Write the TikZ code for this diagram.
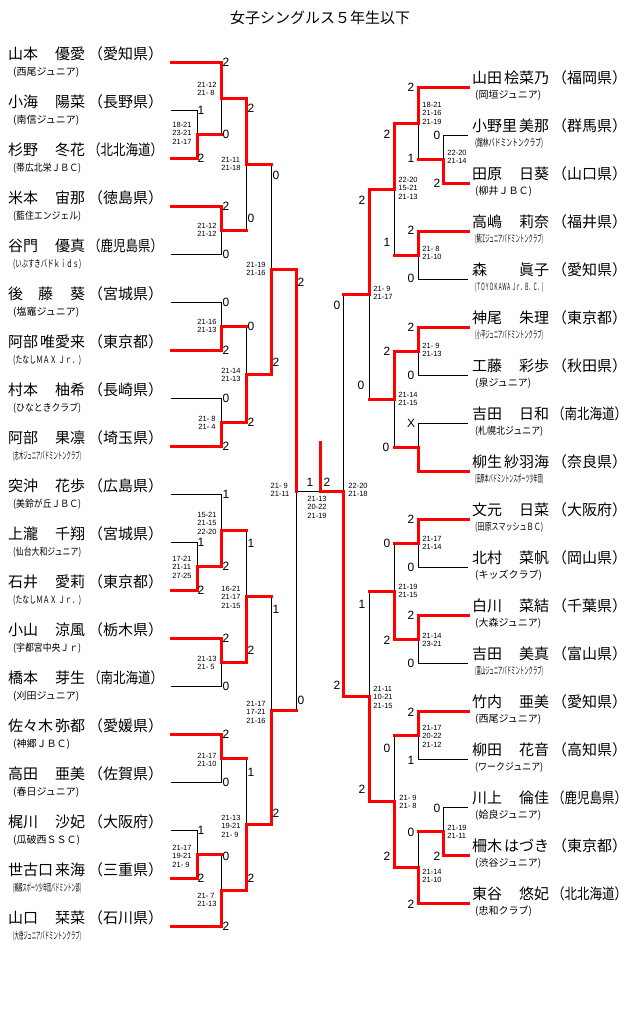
\documentclass[tikz,border=0pt]{standalone}
\usepackage{fontspec}
\usepackage{graphicx}
\usepackage{tikz}
\setmainfont{Noto Sans CJK JP}
\newfontfamily\digitfont{Liberation Sans}
\newsavebox\fitsave
\newcommand\fitto[2]{\sbox\fitsave{#2}\ifdim\wd\fitsave>#1\relax\resizebox{#1}{\height}{\usebox\fitsave}\else\usebox\fitsave\fi}
\newcommand\playerentry[3]{\makebox[155pt][s]{\makebox[77pt][s]{#1\hfill#2}\hfill\fitto{75pt}{（#3）}}}

\begin{document}
\begin{tikzpicture}[x=1pt, y=-1pt,
  win/.style={red, line width=3pt, line cap=rect},
  lose/.style={black, line width=0.8pt},
  entrytxt/.style={anchor=west, inner sep=0pt, font=\fontsize{15}{18}\selectfont},
  clubtxt/.style={anchor=west, inner sep=0pt, font=\fontsize{10}{12}\selectfont},
  gamescore/.style={inner sep=0pt, align=left, font=\digitfont\fontsize{7.5}{8.5}\selectfont},
  roundscore/.style={inner sep=0pt, font=\digitfont\fontsize{12}{14}\selectfont}]
\useasboundingbox (0,0) rectangle (640,1009);
\node[font=\fontsize{15}{18}\selectfont] (title) at (320,18) {女子シングルス５年生以下};

\foreach \famn/\givn/\prf/\clb [count=\i from 0] in {
    山本/優愛/愛知県/西尾ジュニア, 小海/陽菜/長野県/南信ジュニア,
    杉野/冬花/北北海道/帯広北栄ＪＢＣ, 米本/宙那/徳島県/藍住エンジェル,
    谷門/優真/鹿児島県/いぶすきバドｋｉｄｓ, 後　藤/葵/宮城県/塩竈ジュニア,
    阿部/唯愛来/東京都/たなしＭＡＸ Ｊｒ．, 村本/柚希/長崎県/ひなときクラブ,
    阿部/果凛/埼玉県/志木ジュニアバドミントンクラブ, 突沖/花歩/広島県/美鈴が丘ＪＢＣ,
    上瀧/千翔/宮城県/仙台大和ジュニア, 石井/愛莉/東京都/たなしＭＡＸ Ｊｒ．,
    小山/涼風/栃木県/宇都宮中央Ｊｒ, 橋本/芽生/南北海道/刈田ジュニア,
    佐々木/弥都/愛媛県/神郷ＪＢＣ, 高田/亜美/佐賀県/春日ジュニア,
    梶川/沙妃/大阪府/瓜破西ＳＳＣ, 世古口/来海/三重県/鵜殿スポーツ少年団バドミントン部,
    山口/栞菜/石川県/大徳ジュニアバドミントンクラブ} {
  \pgfmathsetmacro\yy{62+48*\i}
  \node[entrytxt] (lp\i) at (8,\yy-8.5) {\playerentry{\famn}{\givn}{\prf}};
  \node[clubtxt] (lc\i) at (13,\yy+10) {\fitto{68pt}{(\clb)}};
  \coordinate (L\i) at (171,\yy);
}
\foreach \famn/\givn/\prf/\clb [count=\i from 0] in {
    山田/桧菜乃/福岡県/岡垣ジュニア, 小野里/美那/群馬県/館林バドミントンクラブ,
    田原/日葵/山口県/柳井ＪＢＣ, 高嶋/莉奈/福井県/鯖江ジュニアバドミントンクラブ,
    森/眞子/愛知県/ＴＯＹＯＫＡＷＡ Ｊｒ．Ｂ．Ｃ．, 神尾/朱理/東京都/小平ジュニアバドミントンクラブ,
    工藤/彩歩/秋田県/泉ジュニア, 吉田/日和/南北海道/札幌北ジュニア,
    柳生/紗羽海/奈良県/田原本バドミントンスポーツ少年団, 文元/日菜/大阪府/田原スマッシュＢＣ,
    北村/菜帆/岡山県/キッズクラブ, 白川/菜結/千葉県/大森ジュニア,
    吉田/美真/富山県/富山ジュニアバドミントンクラブ, 竹内/亜美/愛知県/西尾ジュニア,
    柳田/花音/高知県/ワークジュニア, 川上/倫佳/鹿児島県/姶良ジュニア,
    柵木/はづき/東京都/渋谷ジュニア, 東谷/悠妃/北北海道/忠和クラブ} {
  \pgfmathsetmacro\yy{87+48*\i}
  \node[entrytxt] (rp\i) at (472,\yy-9.5) {\playerentry{\famn}{\givn}{\prf}};
  \node[clubtxt] (rc\i) at (475,\yy+8) {\fitto{68pt}{(\clb)}};
  \coordinate (R\i) at (468,\yy);
}

\foreach \n/\x/\y in {1/197/134, 2/221/98, 3/221/230, 4/246/164, 5/221/326, 6/221/422,
    7/246/374, 8/271/269, 9/197/566, 10/221/530, 11/221/662, 12/246/596, 13/221/758,
    14/197/854, 15/221/890, 16/246/824, 17/271/710, 18/296/491}
  \coordinate (a\n) at (\x,\y);
\foreach \n/\x/\y in {1/443/159, 2/418/123, 3/418/255, 4/394/189, 5/418/351, 6/418/447,
    7/394/399, 8/369/294, 9/418/543, 10/418/639, 11/394/591, 12/418/735, 13/443/831,
    14/418/867, 15/394/801, 16/369/696, 17/343/491}
  \coordinate (b\n) at (\x,\y);
\coordinate (fin) at (320,491);
\coordinate (champ) at (320,442);

\foreach \p/\m in {L1/a1, a1/a2, L4/a3, a3/a4, L5/a5, L7/a6, a5/a7, a4/a8, L10/a9, L9/a10,
    L13/a11, a10/a12, L15/a13, L16/a14, a14/a15, a13/a16, a12/a17, a17/a18,
    R1/b1, b1/b2, R4/b3, b3/b4, R6/b5, R7/b6, b6/b7, b7/b8, R10/b9, R12/b10, b9/b11,
    R14/b12, R15/b13, b13/b14, b12/b15, b11/b16, b8/b17}
  \draw[lose] (\p) -| (\m);
\draw[lose] (a18) -- (fin);
\foreach \p/\m in {L2/a1, L0/a2, L3/a3, a2/a4, L6/a5, L8/a6, a6/a7, a7/a8, L11/a9, a9/a10,
    L12/a11, a11/a12, L14/a13, L17/a14, L18/a15, a15/a16, a16/a17, a8/a18,
    R2/b1, R0/b2, R3/b3, b2/b4, R5/b5, R8/b6, b5/b7, b4/b8, R9/b9, R11/b10, b10/b11,
    R13/b12, R16/b13, R17/b14, b14/b15, b15/b16, b16/b17}
  \draw[win] (\p) -| (\m);
\foreach \p/\m in {a1/a2, a3/a4, a5/a7, a4/a8, a10/a12, a14/a15, a13/a16, a12/a17, a17/a18,
    b1/b2, b3/b4, b6/b7, b7/b8, b9/b11, b13/b14, b12/b15, b11/b16, b8/b17}
  \draw[win] (\p) -- (\p -| \m);
\draw[win] (b17) -- (fin) -- (champ);

\foreach \x/\y/\t [count=\k] in {226/62/2, 201/110/1, 201/158/2, 226/134/0, 226/206/2,
    226/254/0, 251/108/2, 251/218/0, 226/302/0, 226/350/2, 226/398/0, 226/446/2,
    251/326/0, 251/422/2, 276/175/0, 276/362/2, 301/282/2, 301/700/0, 226/494/1,
    201/542/1, 201/590/2, 226/566/2, 226/638/2, 226/686/0, 251/543/1, 251/650/2,
    276/609/1, 276/813/2, 226/734/2, 226/782/0, 201/830/1, 201/878/2, 226/856/0,
    226/926/2, 251/772/1, 251/878/2, 310/482/1, 327/482/2}
  \node[roundscore] (ls\k) at (\x,\y) {\t};
\foreach \x/\y/\t [count=\k] in {411/87/2, 437/135/0, 437/183/2, 411/158/1, 387/134/2,
    387/242/1, 411/230/2, 411/278/0, 362/200/2, 361/385/0, 337/305/0, 337/685/2,
    411/327/2, 411/375/0, 387/351/2, 386/447/0, 411/423/X, 411/519/2, 411/567/0,
    387/543/0, 387/640/2, 411/615/2, 411/663/0, 362/604/1, 362/789/2, 411/712/2,
    411/760/1, 437/808/0, 437/856/2, 411/832/0, 411/904/2, 387/748/0, 387/856/2}
  \node[roundscore] (rs\k) at (\x,\y) {\t};

\foreach \x/\y/\t [count=\k] in {182/133/{18-21\\23-21\\21-17}, 207/89/{21-12\\21- 8},
    207/230/{21-12\\21-12}, 231/164/{21-11\\21-18}, 207/326/{21-16\\21-13},
    207/423/{21- 8\\21- 4}, 231/375/{21-14\\21-13}, 256/269/{21-19\\21-16},
    182/567/{17-21\\21-11\\27-25}, 207/523/{15-21\\21-15\\22-20}, 207/663/{21-13\\21- 5},
    231/597/{16-21\\21-17\\21-15}, 207/760/{21-17\\21-10}, 182/856/{21-17\\19-21\\21- 9},
    207/900/{21- 7\\21-13}, 231/826/{21-13\\19-21\\21- 9}, 256/712/{21-17\\17-21\\21-16},
    280/490/{21- 9\\21-11}, 317/507/{21-13\\20-22\\21-19}}
  \node[gamescore] (lg\k) at (\x,\y) {\t};
\foreach \x/\y/\t [count=\k] in {457/157/{22-20\\21-14}, 432/113/{18-21\\21-16\\21-19},
    432/253/{21- 8\\21-10}, 408/188/{22-20\\15-21\\21-13}, 432/350/{21- 9\\21-13},
    408/399/{21-14\\21-15}, 383/293/{21- 9\\21-17}, 432/543/{21-17\\21-14},
    432/640/{21-14\\23-21}, 408/591/{21-19\\21-15}, 432/736/{21-17\\20-22\\21-12},
    457/832/{21-19\\21-11}, 432/876/{21-14\\21-10}, 408/802/{21- 9\\21- 8},
    383/697/{21-11\\10-21\\21-15}, 358/490/{22-20\\21-18}}
  \node[gamescore] (rg\k) at (\x,\y) {\t};
\end{tikzpicture}
\end{document}
